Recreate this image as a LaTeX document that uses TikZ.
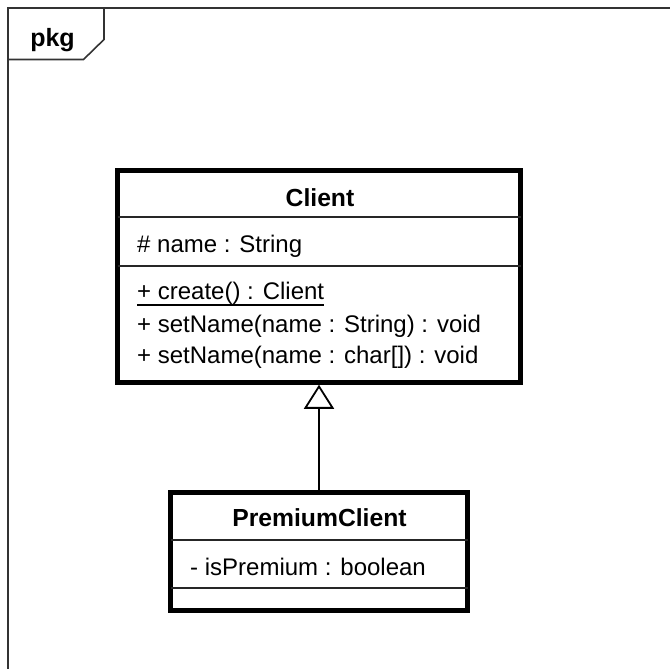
\documentclass[tikz,border=0pt]{standalone}
\usepackage{fontspec}
\setmainfont{Liberation Sans}
\usetikzlibrary{arrows.meta}
\begin{document}
\begin{tikzpicture}[x=1pt,y=-1pt,
  frameline/.style={line width=1.6pt,draw=black!80},
  classbox/.style={draw=black,line width=4.5pt,inner sep=0pt,fill=white},
  sepline/.style={line width=1.8pt,draw=black!85},
  member/.style={anchor=base west,inner sep=0pt,font=\fontsize{24}{28}\selectfont},
  header/.style={anchor=base,inner sep=0pt,font=\fontsize{24.7}{28}\selectfont\bfseries},
  gen/.style={line width=1.8pt,-{Triangle[open,length=24pt,width=30pt,line width=1.8pt]}}
]
\useasboundingbox (0,0) rectangle (670,669);
% package frame
\draw[frameline] (8,669) -- (8,8) -- (670,8);
\draw[frameline] (104,8) -- (104,39.5) -- (83.5,59.5) -- (8,59.5);
\node[header,font=\fontsize{25}{28}\selectfont\bfseries] (pkg) at (52.5,46.5) {pkg};
% Client
\node[classbox,minimum width=403pt,minimum height=212pt] (client) at (319,276.5) {};
\draw[sepline] (117.5,217) -- (520.5,217);
\draw[sepline] (117.5,266) -- (520.5,266);
\node[header] (clientname) at (320,206) {Client};
\node[member] (attr) at (137,252) {\# name : String};
\node[member] (create) at (137,299) {+ create() : Client};
\draw[line width=1.6pt] ([yshift=-6pt]create.base west) -- ([yshift=-6pt]create.base east);
\node[member] (set1) at (137,332) {+ setName(name : String) : void};
\node[member] (set2) at (137,363) {+ setName(name : char[]) : void};
% PremiumClient
\node[classbox,minimum width=297pt,minimum height=118pt] (premium) at (319,551.5) {};
\draw[sepline] (170.5,540) -- (467.5,540);
\draw[sepline] (170.5,588) -- (467.5,588);
\node[header] (premiumname) at (319.5,526.5) {PremiumClient};
\node[member] (isprem) at (190,575.5) {- isPremium : boolean};
% generalization
\draw[gen] (premium.north) -- (client.south);
\end{tikzpicture}
\end{document}
